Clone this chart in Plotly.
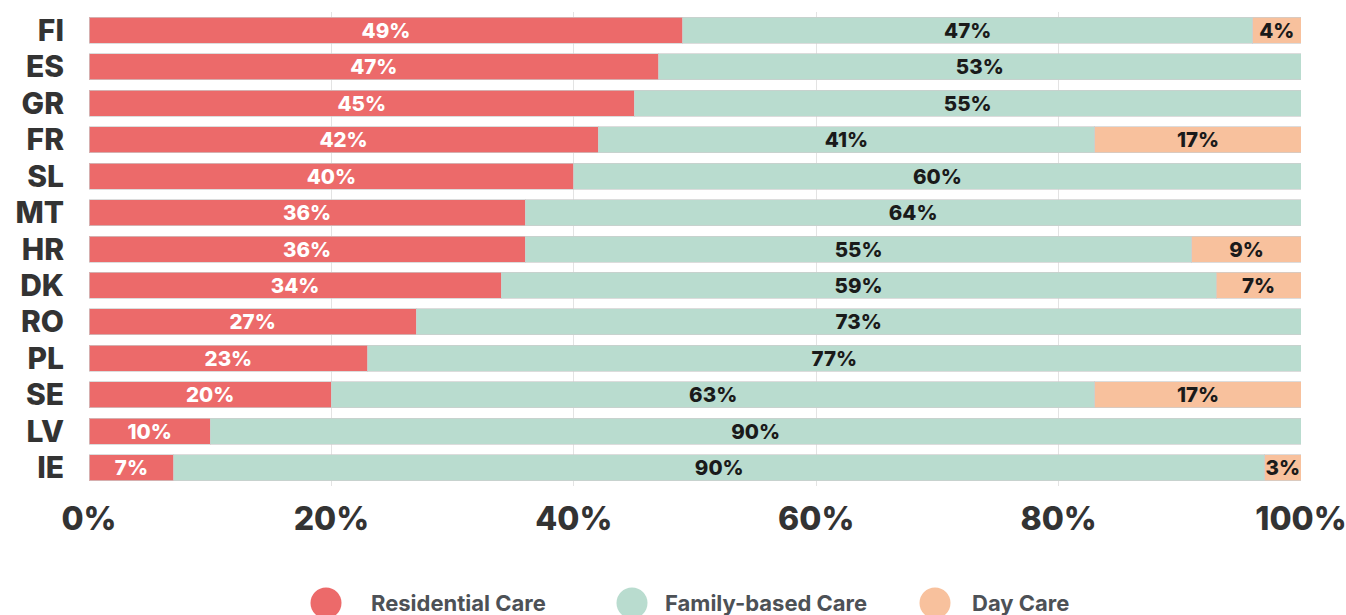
import plotly.graph_objects as go

# Share of children in each type of care, by country (percent)
countries = ["FI", "ES", "GR", "FR", "SL", "MT", "HR", "DK", "RO", "PL", "SE", "LV", "IE"]
residential = [49, 47, 45, 42, 40, 36, 36, 34, 27, 23, 20, 10, 7]
family_based = [47, 53, 55, 41, 60, 64, 55, 59, 73, 77, 63, 90, 90]
day_care = [4, 0, 0, 17, 0, 0, 9, 7, 0, 0, 17, 0, 3]

series_names = ["Residential Care", "Family-based Care", "Day Care"]
x_ticks = [0, 20, 40, 60, 80, 100]

colors = ["#EC6A6A", "#B9DCCF", "#F8C19D"]
text_colors = ["#FFFFFF", "#1A1A1A", "#1A1A1A"]
FONT = "Inter, Lato, 'DejaVu Sans', sans-serif"

W, H = 1346, 615
M = dict(l=89, r=45, t=12, b=129)
plot_w = W - M["l"] - M["r"]

fig = go.Figure()
for name, vals, col, tcol in zip(series_names, [residential, family_based, day_care], colors, text_colors):
    fig.add_trace(go.Bar(
        y=countries,
        x=vals,
        name=name,
        orientation="h",
        marker=dict(color=col, line=dict(color="rgba(205,205,205,0.7)", width=1)),
        text=[f"{v}%" if v > 0 else "" for v in vals],
        textposition="inside",
        insidetextanchor="middle",
        textangle=0,
        textfont=dict(family=FONT, size=20.5, color=tcol, weight=800),
        hoverinfo="skip",
        showlegend=False,
    ))

# Legend: circle swatches with labels below the chart
legend_items = [
    (series_names[0], colors[0], 326, 369),
    (series_names[1], colors[1], 632, 663),
    (series_names[2], colors[2], 935, 970),
]
shapes = []
annotations = []
legend_py = 603  # pixel row of legend centre
legend_y = (H - M["b"] - legend_py) / (H - M["t"] - M["b"])
for name, col, cx, tx in legend_items:
    shapes.append(dict(
        type="circle", xref="paper", yref="paper",
        xsizemode="pixel", ysizemode="pixel",
        xanchor=(cx - M["l"]) / plot_w, yanchor=legend_y,
        x0=-15.5, x1=15.5, y0=-15.5, y1=15.5,
        fillcolor=col, line=dict(width=0),
    ))
    annotations.append(dict(
        text=name, xref="paper", yref="paper",
        x=(tx - M["l"]) / plot_w, y=legend_y,
        xanchor="left", yanchor="middle", showarrow=False,
        font=dict(family=FONT, size=22, color="#4D5156", weight=700),
    ))

fig.update_layout(
    barmode="stack",
    bargap=0.287,
    width=W, height=H,
    margin=M,
    paper_bgcolor="white",
    plot_bgcolor="white",
    uniformtext=dict(minsize=20.5, mode="show"),
    shapes=shapes,
    annotations=annotations,
    showlegend=False,
)
fig.update_xaxes(
    range=[0, 100],
    tickvals=x_ticks,
    ticktext=[f"{v}%" for v in x_ticks],
    tickfont=dict(family=FONT, size=32, color="#333333", weight=800),
    showgrid=True, gridcolor="#E3E3E3", gridwidth=1,
    zeroline=False, showline=False,
    ticks="", ticklabelstandoff=11,
    ticklabeloverflow="allow",
    automargin=False,
    fixedrange=True,
)
fig.update_yaxes(
    autorange="reversed",
    tickfont=dict(family=FONT, size=30, color="#333333", weight=800),
    showgrid=False, zeroline=False, showline=False,
    ticks="", ticklabelstandoff=24,
    automargin=False,
    fixedrange=True,
)

fig.write_html("out.html", config={"displayModeBar": False})
